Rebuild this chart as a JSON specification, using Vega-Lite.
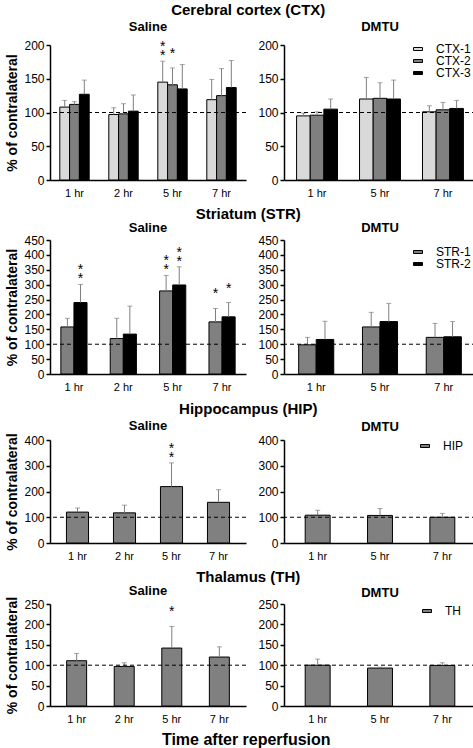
{
  "$schema": "https://vega.github.io/schema/vega-lite/v6.json",
  "padding": {"left": 5, "right": 0, "top": 3, "bottom": 2},
  "datasets": {
    "ctx": [
      {"group": "Saline", "time": "1 hr", "series": "CTX-1", "value": 108, "err": 118, "sig": ""},
      {"group": "Saline", "time": "1 hr", "series": "CTX-2", "value": 112, "err": 116, "sig": ""},
      {"group": "Saline", "time": "1 hr", "series": "CTX-3", "value": 127, "err": 148, "sig": ""},
      {"group": "Saline", "time": "2 hr", "series": "CTX-1", "value": 97, "err": 107, "sig": ""},
      {"group": "Saline", "time": "2 hr", "series": "CTX-2", "value": 98, "err": 113, "sig": ""},
      {"group": "Saline", "time": "2 hr", "series": "CTX-3", "value": 102, "err": 126, "sig": ""},
      {"group": "Saline", "time": "5 hr", "series": "CTX-1", "value": 145, "err": 176, "sig": "*\n*"},
      {"group": "Saline", "time": "5 hr", "series": "CTX-2", "value": 141, "err": 166, "sig": "*"},
      {"group": "Saline", "time": "5 hr", "series": "CTX-3", "value": 135, "err": 171, "sig": ""},
      {"group": "Saline", "time": "7 hr", "series": "CTX-1", "value": 119, "err": 149, "sig": ""},
      {"group": "Saline", "time": "7 hr", "series": "CTX-2", "value": 125, "err": 165, "sig": ""},
      {"group": "Saline", "time": "7 hr", "series": "CTX-3", "value": 137, "err": 177, "sig": ""},
      {"group": "DMTU", "time": "1 hr", "series": "CTX-1", "value": 95, "err": 99, "sig": ""},
      {"group": "DMTU", "time": "1 hr", "series": "CTX-2", "value": 96, "err": 101, "sig": ""},
      {"group": "DMTU", "time": "1 hr", "series": "CTX-3", "value": 105, "err": 120, "sig": ""},
      {"group": "DMTU", "time": "5 hr", "series": "CTX-1", "value": 120, "err": 152, "sig": ""},
      {"group": "DMTU", "time": "5 hr", "series": "CTX-2", "value": 121, "err": 144, "sig": ""},
      {"group": "DMTU", "time": "5 hr", "series": "CTX-3", "value": 120, "err": 148, "sig": ""},
      {"group": "DMTU", "time": "7 hr", "series": "CTX-1", "value": 101, "err": 110, "sig": ""},
      {"group": "DMTU", "time": "7 hr", "series": "CTX-2", "value": 104, "err": 115, "sig": ""},
      {"group": "DMTU", "time": "7 hr", "series": "CTX-3", "value": 106, "err": 118, "sig": ""}
    ],
    "str": [
      {"group": "Saline", "time": "1 hr", "series": "STR-1", "value": 158, "err": 187, "sig": ""},
      {"group": "Saline", "time": "1 hr", "series": "STR-2", "value": 240, "err": 301, "sig": "*\n*"},
      {"group": "Saline", "time": "2 hr", "series": "STR-1", "value": 119, "err": 187, "sig": ""},
      {"group": "Saline", "time": "2 hr", "series": "STR-2", "value": 134, "err": 228, "sig": ""},
      {"group": "Saline", "time": "5 hr", "series": "STR-1", "value": 279, "err": 331, "sig": "*\n*"},
      {"group": "Saline", "time": "5 hr", "series": "STR-2", "value": 299, "err": 360, "sig": "*\n*"},
      {"group": "Saline", "time": "7 hr", "series": "STR-1", "value": 175, "err": 220, "sig": "*"},
      {"group": "Saline", "time": "7 hr", "series": "STR-2", "value": 192, "err": 240, "sig": "*"},
      {"group": "DMTU", "time": "1 hr", "series": "STR-1", "value": 98, "err": 123, "sig": ""},
      {"group": "DMTU", "time": "1 hr", "series": "STR-2", "value": 116, "err": 177, "sig": ""},
      {"group": "DMTU", "time": "5 hr", "series": "STR-1", "value": 158, "err": 207, "sig": ""},
      {"group": "DMTU", "time": "5 hr", "series": "STR-2", "value": 176, "err": 237, "sig": ""},
      {"group": "DMTU", "time": "7 hr", "series": "STR-1", "value": 123, "err": 170, "sig": ""},
      {"group": "DMTU", "time": "7 hr", "series": "STR-2", "value": 125, "err": 176, "sig": ""}
    ],
    "hip": [
      {"group": "Saline", "time": "1 hr", "series": "HIP", "value": 120, "err": 136, "sig": ""},
      {"group": "Saline", "time": "2 hr", "series": "HIP", "value": 117, "err": 147, "sig": ""},
      {"group": "Saline", "time": "5 hr", "series": "HIP", "value": 219, "err": 311, "sig": "*\n*"},
      {"group": "Saline", "time": "7 hr", "series": "HIP", "value": 158, "err": 207, "sig": ""},
      {"group": "DMTU", "time": "1 hr", "series": "HIP", "value": 108, "err": 127, "sig": ""},
      {"group": "DMTU", "time": "5 hr", "series": "HIP", "value": 107, "err": 134, "sig": ""},
      {"group": "DMTU", "time": "7 hr", "series": "HIP", "value": 100, "err": 115, "sig": ""}
    ],
    "th": [
      {"group": "Saline", "time": "1 hr", "series": "TH", "value": 111, "err": 129, "sig": ""},
      {"group": "Saline", "time": "2 hr", "series": "TH", "value": 97, "err": 106, "sig": ""},
      {"group": "Saline", "time": "5 hr", "series": "TH", "value": 142, "err": 195, "sig": "*"},
      {"group": "Saline", "time": "7 hr", "series": "TH", "value": 120, "err": 145, "sig": ""},
      {"group": "DMTU", "time": "1 hr", "series": "TH", "value": 100, "err": 115, "sig": ""},
      {"group": "DMTU", "time": "5 hr", "series": "TH", "value": 93, "err": 95, "sig": ""},
      {"group": "DMTU", "time": "7 hr", "series": "TH", "value": 99.5, "err": 106, "sig": ""}
    ]
  },
  "title": {"text": "Time after reperfusion", "orient": "bottom", "fontSize": 16, "anchor": "middle", "dx": 5, "offset": 8},
  "spacing": 9,
  "resolve": {"scale": {"x": "independent", "y": "independent", "fill": "independent", "xOffset": "independent"}, "legend": {"fill": "independent"}},
  "vconcat": [
    {
      "title": {"text": "Cerebral cortex (CTX)", "fontSize": 15, "anchor": "middle", "dx": 7, "offset": 3},
      "spacing": 10,
      "resolve": {"scale": {"x": "independent", "y": "independent", "fill": "independent", "xOffset": "independent"}, "legend": {"fill": "independent"}},
      "hconcat": [
        {
          "width": 196, "height": 135,
          "title": {"text": "Saline", "offset": 5},
          "data": {"name": "ctx"},
          "transform": [{"filter": "datum.group === 'Saline'"}],
          "layer": [
            {"mark": {"type": "bar", "stroke": "black", "strokeWidth": 1},
             "encoding": {
               "x": {"field": "time", "type": "nominal", "scale": {"domain": ["1 hr", "2 hr", "5 hr", "7 hr"], "paddingInner": 0.4, "paddingOuter": 0.2}, "axis": {"title": null}},
               "xOffset": {"field": "series", "type": "nominal", "scale": {"paddingInner": 0, "paddingOuter": 0}},
               "y": {"field": "value", "type": "quantitative", "scale": {"domain": [0, 200], "nice": false}, "axis": {"values": [0, 50, 100, 150, 200], "title": "% of contralateral"}},
               "fill": {"field": "series", "type": "nominal", "scale": {"domain": ["CTX-1", "CTX-2", "CTX-3"], "range": ["#d9d9d9", "#808080", "#000000"]}, "legend": null}
             }},
            {"mark": {"type": "rule", "color": "#7f7f7f", "strokeWidth": 1},
             "encoding": {
               "x": {"field": "time", "type": "nominal"},
               "xOffset": {"field": "series", "type": "nominal"},
               "y": {"field": "value", "type": "quantitative", "axis": {"values": [0, 50, 100, 150, 200], "title": "% of contralateral"}}, "y2": {"field": "err"}}},
            {"mark": {"type": "tick", "color": "#7f7f7f", "thickness": 1, "size": 5},
             "encoding": {
               "x": {"field": "time", "type": "nominal"},
               "xOffset": {"field": "series", "type": "nominal"},
               "y": {"field": "err", "type": "quantitative", "axis": {"values": [0, 50, 100, 150, 200], "title": "% of contralateral"}}}},
            {"mark": {"type": "text", "fontSize": 14, "lineBreak": "\n", "lineHeight": 9, "baseline": "bottom", "dy": -7, "color": "black"},
             "encoding": {
               "x": {"field": "time", "type": "nominal"},
               "xOffset": {"field": "series", "type": "nominal"},
               "y": {"field": "err", "type": "quantitative", "axis": {"values": [0, 50, 100, 150, 200], "title": "% of contralateral"}}, "text": {"field": "sig"}}},
            {"transform": [{"aggregate": [{"op": "count", "as": "n"}]}],
             "mark": {"type": "rule", "strokeDash": [4, 3], "color": "black", "strokeWidth": 1},
             "encoding": {"y": {"datum": 100, "type": "quantitative", "axis": {"values": [0, 50, 100, 150, 200], "title": "% of contralateral"}}}}
          ]
        },
        {
          "width": 192, "height": 135,
          "title": {"text": "DMTU", "offset": 5},
          "data": {"name": "ctx"},
          "transform": [{"filter": "datum.group === 'DMTU'"}],
          "layer": [
            {"mark": {"type": "bar", "stroke": "black", "strokeWidth": 1},
             "encoding": {
               "x": {"field": "time", "type": "nominal", "scale": {"domain": ["1 hr", "5 hr", "7 hr"], "paddingInner": 0.35, "paddingOuter": 0.2}, "axis": {"title": null}},
               "xOffset": {"field": "series", "type": "nominal", "scale": {"paddingInner": 0, "paddingOuter": 0}},
               "y": {"field": "value", "type": "quantitative", "scale": {"domain": [0, 200], "nice": false}, "axis": {"values": [0, 50, 100, 150, 200], "title": null}},
               "fill": {"field": "series", "type": "nominal", "scale": {"domain": ["CTX-1", "CTX-2", "CTX-3"], "range": ["#d9d9d9", "#808080", "#000000"]}, "legend": {"title": null, "orient": "none", "legendX": 125, "legendY": -2}}
             }},
            {"mark": {"type": "rule", "color": "#7f7f7f", "strokeWidth": 1},
             "encoding": {
               "x": {"field": "time", "type": "nominal"},
               "xOffset": {"field": "series", "type": "nominal"},
               "y": {"field": "value", "type": "quantitative", "axis": {"values": [0, 50, 100, 150, 200], "title": null}}, "y2": {"field": "err"}}},
            {"mark": {"type": "tick", "color": "#7f7f7f", "thickness": 1, "size": 5},
             "encoding": {
               "x": {"field": "time", "type": "nominal"},
               "xOffset": {"field": "series", "type": "nominal"},
               "y": {"field": "err", "type": "quantitative", "axis": {"values": [0, 50, 100, 150, 200], "title": null}}}},
            {"transform": [{"aggregate": [{"op": "count", "as": "n"}]}],
             "mark": {"type": "rule", "strokeDash": [4, 3], "color": "black", "strokeWidth": 1},
             "encoding": {"y": {"datum": 100, "type": "quantitative", "axis": {"values": [0, 50, 100, 150, 200], "title": null}}}}
          ]
        }
      ]
    },
    {
      "title": {"text": "Striatum (STR)", "fontSize": 15, "anchor": "middle", "dx": 7, "offset": 0},
      "spacing": 10,
      "resolve": {"scale": {"x": "independent", "y": "independent", "fill": "independent", "xOffset": "independent"}, "legend": {"fill": "independent"}},
      "hconcat": [
        {
          "width": 196, "height": 134,
          "title": {"text": "Saline", "offset": -1},
          "data": {"name": "str"},
          "transform": [{"filter": "datum.group === 'Saline'"}],
          "layer": [
            {"mark": {"type": "bar", "stroke": "black", "strokeWidth": 1},
             "encoding": {
               "x": {"field": "time", "type": "nominal", "scale": {"domain": ["1 hr", "2 hr", "5 hr", "7 hr"], "paddingInner": 0.47, "paddingOuter": 0.22}, "axis": {"title": null}},
               "xOffset": {"field": "series", "type": "nominal", "scale": {"paddingInner": 0, "paddingOuter": 0}},
               "y": {"field": "value", "type": "quantitative", "scale": {"domain": [0, 450], "nice": false}, "axis": {"values": [0, 50, 100, 150, 200, 250, 300, 350, 400, 450], "title": "% of contralateral"}},
               "fill": {"field": "series", "type": "nominal", "scale": {"domain": ["STR-1", "STR-2"], "range": ["#808080", "#000000"]}, "legend": null}
             }},
            {"mark": {"type": "rule", "color": "#7f7f7f", "strokeWidth": 1},
             "encoding": {
               "x": {"field": "time", "type": "nominal"},
               "xOffset": {"field": "series", "type": "nominal"},
               "y": {"field": "value", "type": "quantitative", "axis": {"values": [0, 50, 100, 150, 200, 250, 300, 350, 400, 450], "title": "% of contralateral"}}, "y2": {"field": "err"}}},
            {"mark": {"type": "tick", "color": "#7f7f7f", "thickness": 1, "size": 5},
             "encoding": {
               "x": {"field": "time", "type": "nominal"},
               "xOffset": {"field": "series", "type": "nominal"},
               "y": {"field": "err", "type": "quantitative", "axis": {"values": [0, 50, 100, 150, 200, 250, 300, 350, 400, 450], "title": "% of contralateral"}}}},
            {"mark": {"type": "text", "fontSize": 14, "lineBreak": "\n", "lineHeight": 9, "baseline": "bottom", "dy": -7, "color": "black"},
             "encoding": {
               "x": {"field": "time", "type": "nominal"},
               "xOffset": {"field": "series", "type": "nominal"},
               "y": {"field": "err", "type": "quantitative", "axis": {"values": [0, 50, 100, 150, 200, 250, 300, 350, 400, 450], "title": "% of contralateral"}}, "text": {"field": "sig"}}},
            {"transform": [{"aggregate": [{"op": "count", "as": "n"}]}],
             "mark": {"type": "rule", "strokeDash": [4, 3], "color": "black", "strokeWidth": 1},
             "encoding": {"y": {"datum": 100, "type": "quantitative", "axis": {"values": [0, 50, 100, 150, 200, 250, 300, 350, 400, 450], "title": "% of contralateral"}}}}
          ]
        },
        {
          "width": 192, "height": 134,
          "title": {"text": "DMTU", "offset": -1},
          "data": {"name": "str"},
          "transform": [{"filter": "datum.group === 'DMTU'"}],
          "layer": [
            {"mark": {"type": "bar", "stroke": "black", "strokeWidth": 1},
             "encoding": {
               "x": {"field": "time", "type": "nominal", "scale": {"domain": ["1 hr", "5 hr", "7 hr"], "paddingInner": 0.45, "paddingOuter": 0.23}, "axis": {"title": null}},
               "xOffset": {"field": "series", "type": "nominal", "scale": {"paddingInner": 0, "paddingOuter": 0}},
               "y": {"field": "value", "type": "quantitative", "scale": {"domain": [0, 450], "nice": false}, "axis": {"values": [0, 50, 100, 150, 200, 250, 300, 350, 400, 450], "title": null}},
               "fill": {"field": "series", "type": "nominal", "scale": {"domain": ["STR-1", "STR-2"], "range": ["#808080", "#000000"]}, "legend": {"title": null, "orient": "none", "legendX": 125, "legendY": 6}}
             }},
            {"mark": {"type": "rule", "color": "#7f7f7f", "strokeWidth": 1},
             "encoding": {
               "x": {"field": "time", "type": "nominal"},
               "xOffset": {"field": "series", "type": "nominal"},
               "y": {"field": "value", "type": "quantitative", "axis": {"values": [0, 50, 100, 150, 200, 250, 300, 350, 400, 450], "title": null}}, "y2": {"field": "err"}}},
            {"mark": {"type": "tick", "color": "#7f7f7f", "thickness": 1, "size": 5},
             "encoding": {
               "x": {"field": "time", "type": "nominal"},
               "xOffset": {"field": "series", "type": "nominal"},
               "y": {"field": "err", "type": "quantitative", "axis": {"values": [0, 50, 100, 150, 200, 250, 300, 350, 400, 450], "title": null}}}},
            {"transform": [{"aggregate": [{"op": "count", "as": "n"}]}],
             "mark": {"type": "rule", "strokeDash": [4, 3], "color": "black", "strokeWidth": 1},
             "encoding": {"y": {"datum": 100, "type": "quantitative", "axis": {"values": [0, 50, 100, 150, 200, 250, 300, 350, 400, 450], "title": null}}}}
          ]
        }
      ]
    },
    {
      "title": {"text": "Hippocampus (HIP)", "fontSize": 15, "anchor": "middle", "dx": 7, "offset": 3},
      "spacing": 10,
      "resolve": {"scale": {"x": "independent", "y": "independent", "fill": "independent", "xOffset": "independent"}, "legend": {"fill": "independent"}},
      "hconcat": [
        {
          "width": 196, "height": 103,
          "title": {"text": "Saline", "offset": 0},
          "data": {"name": "hip"},
          "transform": [{"filter": "datum.group === 'Saline'"}],
          "layer": [
            {"mark": {"type": "bar", "stroke": "black", "strokeWidth": 1},
             "encoding": {
               "x": {"field": "time", "type": "nominal", "scale": {"domain": ["1 hr", "2 hr", "5 hr", "7 hr"], "paddingInner": 0.53, "paddingOuter": 0.35}, "axis": {"title": null}},
               "xOffset": {"field": "series", "type": "nominal", "scale": {"paddingInner": 0, "paddingOuter": 0}},
               "y": {"field": "value", "type": "quantitative", "scale": {"domain": [0, 400], "nice": false}, "axis": {"values": [0, 100, 200, 300, 400], "title": "% of contralateral"}},
               "fill": {"field": "series", "type": "nominal", "scale": {"domain": ["HIP"], "range": ["#808080"]}, "legend": null}
             }},
            {"mark": {"type": "rule", "color": "#7f7f7f", "strokeWidth": 1},
             "encoding": {
               "x": {"field": "time", "type": "nominal"},
               "xOffset": {"field": "series", "type": "nominal"},
               "y": {"field": "value", "type": "quantitative", "axis": {"values": [0, 100, 200, 300, 400], "title": "% of contralateral"}}, "y2": {"field": "err"}}},
            {"mark": {"type": "tick", "color": "#7f7f7f", "thickness": 1, "size": 5},
             "encoding": {
               "x": {"field": "time", "type": "nominal"},
               "xOffset": {"field": "series", "type": "nominal"},
               "y": {"field": "err", "type": "quantitative", "axis": {"values": [0, 100, 200, 300, 400], "title": "% of contralateral"}}}},
            {"mark": {"type": "text", "fontSize": 14, "lineBreak": "\n", "lineHeight": 9, "baseline": "bottom", "dy": -7, "color": "black"},
             "encoding": {
               "x": {"field": "time", "type": "nominal"},
               "xOffset": {"field": "series", "type": "nominal"},
               "y": {"field": "err", "type": "quantitative", "axis": {"values": [0, 100, 200, 300, 400], "title": "% of contralateral"}}, "text": {"field": "sig"}}},
            {"transform": [{"aggregate": [{"op": "count", "as": "n"}]}],
             "mark": {"type": "rule", "strokeDash": [4, 3], "color": "black", "strokeWidth": 1},
             "encoding": {"y": {"datum": 100, "type": "quantitative", "axis": {"values": [0, 100, 200, 300, 400], "title": "% of contralateral"}}}}
          ]
        },
        {
          "width": 192, "height": 103,
          "title": {"text": "DMTU", "offset": 0},
          "data": {"name": "hip"},
          "transform": [{"filter": "datum.group === 'DMTU'"}],
          "layer": [
            {"mark": {"type": "bar", "stroke": "black", "strokeWidth": 1},
             "encoding": {
               "x": {"field": "time", "type": "nominal", "scale": {"domain": ["1 hr", "5 hr", "7 hr"], "paddingInner": 0.6, "paddingOuter": 0.34}, "axis": {"title": null}},
               "xOffset": {"field": "series", "type": "nominal", "scale": {"paddingInner": 0, "paddingOuter": 0}},
               "y": {"field": "value", "type": "quantitative", "scale": {"domain": [0, 400], "nice": false}, "axis": {"values": [0, 100, 200, 300, 400], "title": null}},
               "fill": {"field": "series", "type": "nominal", "scale": {"domain": ["HIP"], "range": ["#808080"]}, "legend": {"title": null, "orient": "none", "legendX": 132, "legendY": 0}}
             }},
            {"mark": {"type": "rule", "color": "#7f7f7f", "strokeWidth": 1},
             "encoding": {
               "x": {"field": "time", "type": "nominal"},
               "xOffset": {"field": "series", "type": "nominal"},
               "y": {"field": "value", "type": "quantitative", "axis": {"values": [0, 100, 200, 300, 400], "title": null}}, "y2": {"field": "err"}}},
            {"mark": {"type": "tick", "color": "#7f7f7f", "thickness": 1, "size": 5},
             "encoding": {
               "x": {"field": "time", "type": "nominal"},
               "xOffset": {"field": "series", "type": "nominal"},
               "y": {"field": "err", "type": "quantitative", "axis": {"values": [0, 100, 200, 300, 400], "title": null}}}},
            {"transform": [{"aggregate": [{"op": "count", "as": "n"}]}],
             "mark": {"type": "rule", "strokeDash": [4, 3], "color": "black", "strokeWidth": 1},
             "encoding": {"y": {"datum": 100, "type": "quantitative", "axis": {"values": [0, 100, 200, 300, 400], "title": null}}}}
          ]
        }
      ]
    },
    {
      "title": {"text": "Thalamus (TH)", "fontSize": 15, "anchor": "middle", "dx": 7, "offset": 0},
      "spacing": 10,
      "resolve": {"scale": {"x": "independent", "y": "independent", "fill": "independent", "xOffset": "independent"}, "legend": {"fill": "independent"}},
      "hconcat": [
        {
          "width": 196, "height": 102,
          "title": {"text": "Saline", "offset": -2},
          "data": {"name": "th"},
          "transform": [{"filter": "datum.group === 'Saline'"}],
          "layer": [
            {"mark": {"type": "bar", "stroke": "black", "strokeWidth": 1},
             "encoding": {
               "x": {"field": "time", "type": "nominal", "scale": {"domain": ["1 hr", "2 hr", "5 hr", "7 hr"], "paddingInner": 0.58, "paddingOuter": 0.35}, "axis": {"title": null}},
               "xOffset": {"field": "series", "type": "nominal", "scale": {"paddingInner": 0, "paddingOuter": 0}},
               "y": {"field": "value", "type": "quantitative", "scale": {"domain": [0, 250], "nice": false}, "axis": {"values": [0, 50, 100, 150, 200, 250], "title": "% of contralateral"}},
               "fill": {"field": "series", "type": "nominal", "scale": {"domain": ["TH"], "range": ["#808080"]}, "legend": null}
             }},
            {"mark": {"type": "rule", "color": "#7f7f7f", "strokeWidth": 1},
             "encoding": {
               "x": {"field": "time", "type": "nominal"},
               "xOffset": {"field": "series", "type": "nominal"},
               "y": {"field": "value", "type": "quantitative", "axis": {"values": [0, 50, 100, 150, 200, 250], "title": "% of contralateral"}}, "y2": {"field": "err"}}},
            {"mark": {"type": "tick", "color": "#7f7f7f", "thickness": 1, "size": 5},
             "encoding": {
               "x": {"field": "time", "type": "nominal"},
               "xOffset": {"field": "series", "type": "nominal"},
               "y": {"field": "err", "type": "quantitative", "axis": {"values": [0, 50, 100, 150, 200, 250], "title": "% of contralateral"}}}},
            {"mark": {"type": "text", "fontSize": 14, "lineBreak": "\n", "lineHeight": 9, "baseline": "bottom", "dy": -7, "color": "black"},
             "encoding": {
               "x": {"field": "time", "type": "nominal"},
               "xOffset": {"field": "series", "type": "nominal"},
               "y": {"field": "err", "type": "quantitative", "axis": {"values": [0, 50, 100, 150, 200, 250], "title": "% of contralateral"}}, "text": {"field": "sig"}}},
            {"transform": [{"aggregate": [{"op": "count", "as": "n"}]}],
             "mark": {"type": "rule", "strokeDash": [4, 3], "color": "black", "strokeWidth": 1},
             "encoding": {"y": {"datum": 100, "type": "quantitative", "axis": {"values": [0, 50, 100, 150, 200, 250], "title": "% of contralateral"}}}}
          ]
        },
        {
          "width": 192, "height": 102,
          "title": {"text": "DMTU", "offset": -2},
          "data": {"name": "th"},
          "transform": [{"filter": "datum.group === 'DMTU'"}],
          "layer": [
            {"mark": {"type": "bar", "stroke": "black", "strokeWidth": 1},
             "encoding": {
               "x": {"field": "time", "type": "nominal", "scale": {"domain": ["1 hr", "5 hr", "7 hr"], "paddingInner": 0.6, "paddingOuter": 0.34}, "axis": {"title": null}},
               "xOffset": {"field": "series", "type": "nominal", "scale": {"paddingInner": 0, "paddingOuter": 0}},
               "y": {"field": "value", "type": "quantitative", "scale": {"domain": [0, 250], "nice": false}, "axis": {"values": [0, 50, 100, 150, 200, 250], "title": null}},
               "fill": {"field": "series", "type": "nominal", "scale": {"domain": ["TH"], "range": ["#808080"]}, "legend": {"title": null, "orient": "none", "legendX": 134, "legendY": 1}}
             }},
            {"mark": {"type": "rule", "color": "#7f7f7f", "strokeWidth": 1},
             "encoding": {
               "x": {"field": "time", "type": "nominal"},
               "xOffset": {"field": "series", "type": "nominal"},
               "y": {"field": "value", "type": "quantitative", "axis": {"values": [0, 50, 100, 150, 200, 250], "title": null}}, "y2": {"field": "err"}}},
            {"mark": {"type": "tick", "color": "#7f7f7f", "thickness": 1, "size": 5},
             "encoding": {
               "x": {"field": "time", "type": "nominal"},
               "xOffset": {"field": "series", "type": "nominal"},
               "y": {"field": "err", "type": "quantitative", "axis": {"values": [0, 50, 100, 150, 200, 250], "title": null}}}},
            {"transform": [{"aggregate": [{"op": "count", "as": "n"}]}],
             "mark": {"type": "rule", "strokeDash": [4, 3], "color": "black", "strokeWidth": 1},
             "encoding": {"y": {"datum": 100, "type": "quantitative", "axis": {"values": [0, 50, 100, 150, 200, 250], "title": null}}}}
          ]
        }
      ]
    }
  ],
  "config": {
    "font": "Liberation Sans",
    "view": {"stroke": null},
    "axis": {"domainColor": "black", "domainWidth": 1.5, "labelColor": "black", "labelFont": "Liberation Sans", "grid": false, "tickColor": "black", "titleColor": "black", "titleFontWeight": "bold", "titleFontSize": 14, "titleFont": "Liberation Sans"},
    "axisX": {"ticks": false, "labelAngle": 0, "labelFontSize": 11, "labelPadding": 7},
    "axisY": {"tickSize": 4, "tickWidth": 1.5, "labelFontSize": 12, "labelPadding": 2, "titlePadding": 4, "labelOverlap": false},
    "title": {"fontSize": 13, "fontWeight": "bold", "color": "black", "font": "Liberation Sans"},
    "legend": {"labelFontSize": 12, "labelColor": "black", "labelFont": "Liberation Sans", "symbolStrokeColor": "black", "symbolStrokeWidth": 1, "symbolOpacity": 1, "symbolType": "M-0.5,-0.5H2.5V0.5H-0.5Z", "symbolSize": 36, "labelOffset": 15, "rowPadding": 0, "padding": 0}
  }
}
